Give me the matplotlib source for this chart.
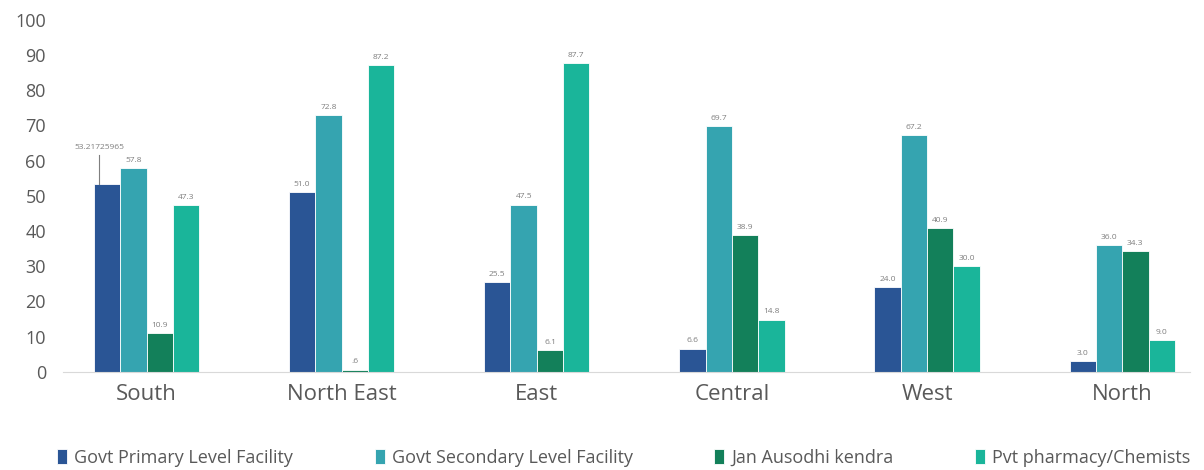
import matplotlib.pyplot as plt
import numpy as np

plt.rcParams["font.family"] = ["Open Sans", "DejaVu Sans"]

regions = ["South", "North East", "East", "Central", "West", "North"]
series = [
    "Govt Primary Level Facility",
    "Govt Secondary Level Facility",
    "Jan Ausodhi kendra",
    "Pvt pharmacy/Chemists",
]
govt_primary = [53.21725965, 51.0, 25.5, 6.6, 24.0, 3.0]
govt_secondary = [57.8, 72.8, 47.5, 69.7, 67.2, 36.0]
jan_ausodhi = [10.9, 0.6, 6.1, 38.9, 40.9, 34.3]
pvt_pharmacy = [47.3, 87.2, 87.7, 14.8, 30.0, 9.0]

primary_labels = ["53.21725965", "51.0", "25.5", "6.6", "24.0", "3.0"]
secondary_labels = ["57.8", "72.8", "47.5", "69.7", "67.2", "36.0"]
jan_labels = ["10.9", ".6", "6.1", "38.9", "40.9", "34.3"]
pvt_labels = ["47.3", "87.2", "87.7", "14.8", "30.0", "9.0"]

colors = ["#2A5595", "#35A4B0", "#13805A", "#1AB59A"]

fig = plt.figure(figsize=(12.04, 4.70), dpi=100)
ax = fig.add_axes([0.052, 0.209, 0.936, 0.749])

x = np.arange(len(regions))
width = 0.135
values = [govt_primary, govt_secondary, jan_ausodhi, pvt_pharmacy]
labels = [primary_labels, secondary_labels, jan_labels, pvt_labels]

for i, (vals, labs) in enumerate(zip(values, labels)):
    pos = x + (i - 1.5) * width
    ax.bar(pos, vals, width, color=colors[i], edgecolor="white", linewidth=0.6,
           label=series[i])
    for j, (p, v, t) in enumerate(zip(pos, vals, labs)):
        if i == 0 and j == 0:
            # long label pulled up with a leader line
            ax.plot([p - 0.04, p - 0.04], [v, v + 8.5], color="#7f7f7f", lw=0.8)
            ax.text(p - 0.04, v + 9.5, t, ha="center", va="bottom",
                    fontsize=6, color="#7f7f7f")
        else:
            ax.text(p, v + 1.2, t, ha="center", va="bottom",
                    fontsize=6, color="#7f7f7f")

ax.set_xlim(-0.43, 5.345)
ax.set_ylim(0, 100)
ax.set_yticks(range(0, 101, 10))
ax.set_xticks(x)
ax.set_xticklabels(regions, fontsize=16, color="#595959")
ax.tick_params(axis="y", length=0, labelsize=13, labelcolor="#595959", pad=12)
ax.tick_params(axis="x", length=0, pad=9)

for s in ["top", "right", "left"]:
    ax.spines[s].set_visible(False)
ax.spines["bottom"].set_color("#d9d9d9")

fig.legend(loc="lower center", bbox_to_anchor=(0.518, -0.028), ncol=4,
           frameon=False, fontsize=13, handlelength=0.55, handleheight=0.9,
           handletextpad=0.4, columnspacing=4.5, labelcolor="#595959")

fig.savefig("out.png", dpi=100)
